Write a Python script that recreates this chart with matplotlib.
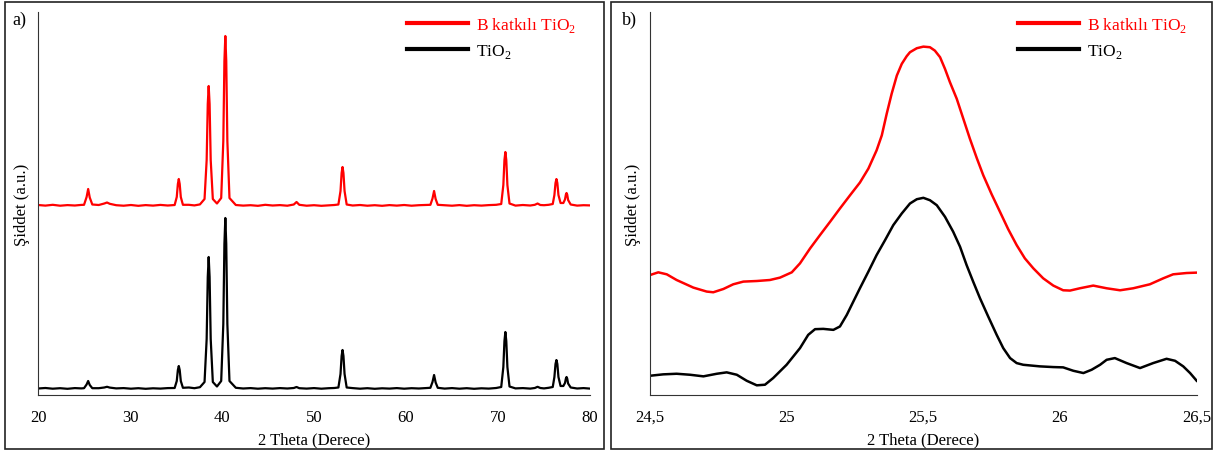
import matplotlib
matplotlib.use("Agg")
import matplotlib.pyplot as plt
from matplotlib.patches import Rectangle

plt.rcParams['font.family'] = ['Liberation Serif', 'DejaVu Serif']
plt.rcParams['mathtext.fontset'] = 'custom'
plt.rcParams['mathtext.rm'] = 'Liberation Serif'

# ---- panel a) full XRD pattern (2 theta, shared grid) ----
theta = [20.0, 20.8, 21.6, 22.4, 23.2, 24.0, 24.7,
         25.0, 25.28, 25.45, 25.62, 25.9,
         26.6, 27.2, 27.5, 27.8, 28.5, 29.3, 30.1, 30.9, 31.7, 32.5, 33.3, 34.1,
         34.85, 35.08, 35.2, 35.3, 35.4, 35.52, 35.75,
         36.4, 37.0, 37.6,
         38.1, 38.33, 38.45, 38.55, 38.65, 38.77, 39.0,
         39.45,
         39.91, 40.14, 40.26, 40.36, 40.46, 40.58, 40.81,
         41.5, 42.3, 43.1, 43.9, 44.7, 45.5, 46.3, 47.1,
         47.8, 48.1, 48.4,
         49.2, 50.0, 50.8, 51.6, 52.2,
         52.65, 52.88, 53.0, 53.1, 53.2, 53.32, 53.55,
         54.2, 55.0, 55.8, 56.6, 57.4, 58.2, 59.0, 59.8, 60.6, 61.4, 62.1,
         62.65, 62.88, 63.05, 63.22, 63.45,
         64.2, 65.0, 65.8, 66.6, 67.4, 68.2, 69.0, 69.8,
         70.35, 70.58, 70.7, 70.8, 70.9, 71.02, 71.25,
         71.9, 72.7, 73.5,
         74.0, 74.3, 74.6,
         75.0, 75.5,
         75.95, 76.13, 76.25, 76.35, 76.45, 76.57, 76.8,
         77.1, 77.28, 77.38, 77.45, 77.52, 77.62, 77.9,
         78.6, 79.3, 80.0]

tio2 = [0.5, 1.0, 0.3, 0.8, 0.2, 0.9, 0.6,
        0.8, 4.5, 8, 4, 0.8,
        0.8, 1.5, 2.2, 1.4, 0.6, 0.9, 0.3, 0.8, 0.2, 0.7, 0.4, 0.9,
        1.0, 8, 19, 23, 19, 8, 1.2,
        1.5, 0.8, 1.8,
        7, 50, 112, 132, 112, 50, 7,
        2.5,
        8, 65, 145, 171, 145, 65, 8,
        1.2, 0.5, 0.9, 0.3, 0.8, 0.4, 0.9, 0.5,
        1.0, 2.0, 0.8,
        0.4, 0.9, 0.3, 0.8, 1.0,
        1.5, 15, 33, 39, 33, 15, 1.5,
        0.9, 0.3, 0.8, 0.2, 0.7, 0.4, 0.9, 0.3, 0.8, 0.5, 0.9,
        1.2, 7, 14, 6.5, 1.2,
        0.4, 0.9, 0.3, 0.8, 0.2, 0.7, 0.4, 1.0,
        2, 22, 48, 57, 48, 22, 2.5,
        0.6, 0.9, 0.4,
        1.0, 2.2, 1.0,
        0.6, 1.2,
        2, 12, 25, 29, 25, 12, 3,
        3, 6, 10.5, 12, 10.5, 5.5, 1.5,
        0.5, 0.9, 0.4]

b_tio2 = [1.0, 0.4, 1.2, 0.3, 0.9, 0.5, 1.1,
          1.2, 9, 17, 8.5, 1.5,
          1.0, 2.5, 3.5, 2.2, 0.8, 0.3, 1.0, 0.2, 0.9, 0.4, 1.1, 0.5,
          1.0, 9, 22, 27, 22, 9, 1.2,
          1.2, 0.6, 1.6,
          7, 46, 102, 120, 102, 46, 7,
          2.5,
          8, 65, 145, 170, 145, 65, 8,
          1.0, 0.4, 0.8, 0.2, 1.2, 0.5, 0.9, 0.3,
          1.5, 4.0, 1.2,
          0.3, 0.8, 0.2, 0.7, 1.0,
          1.5, 15, 33, 39, 33, 15, 1.5,
          0.5, 1.0, 0.3, 0.8, 0.2, 0.9, 0.4, 1.0, 0.3, 0.8, 1.0,
          1.2, 7.5, 15, 7, 1.2,
          0.8, 0.3, 0.9, 0.2, 0.8, 0.4, 0.9, 1.2,
          2, 21, 46, 54, 46, 21, 2.5,
          0.4, 1.0, 0.5,
          1.2, 2.5, 1.0,
          0.8, 1.2,
          2, 11, 23, 27, 23, 11, 3,
          3, 6.5, 11.5, 13, 11.5, 6, 1.5,
          0.4, 0.8, 0.6]

# ---- panel b) zoom on the anatase (101) peak ----
zoom_x_b = [24.502, 24.532, 24.563, 24.599, 24.660, 24.709, 24.733, 24.770, 24.806,
            24.843, 24.892, 24.940, 24.977, 25.020, 25.050, 25.087, 25.123, 25.160,
            25.196, 25.233, 25.269, 25.300, 25.330, 25.349, 25.367, 25.385, 25.404,
            25.422, 25.440, 25.452, 25.477, 25.501, 25.525, 25.543, 25.562, 25.580,
            25.598, 25.623, 25.647, 25.671, 25.696, 25.720, 25.751, 25.781, 25.811,
            25.842, 25.872, 25.903, 25.939, 25.976, 26.012, 26.037, 26.073, 26.122,
            26.171, 26.220, 26.268, 26.329, 26.378, 26.414, 26.463, 26.500]
zoom_b_tio2 = [120.3, 123.0, 121.0, 115.3, 107.7, 103.7, 103.0, 106.3, 111.0,
               113.7, 114.3, 115.3, 117.7, 123.0, 132.0, 147.0, 160.3, 173.7,
               187.0, 200.3, 213.0, 227.0, 245.3, 260.3, 282.0, 302.0, 320.3,
               332.0, 339.7, 343.7, 347.7, 349.3, 348.7, 345.3, 338.7, 327.0,
               313.7, 297.0, 277.0, 257.0, 237.7, 220.3, 201.0, 183.7, 166.3,
               150.3, 137.0, 127.0, 117.0, 109.7, 105.0, 104.7, 107.0, 109.7,
               107.0, 105.0, 107.0, 111.0, 117.0, 121.0, 122.3, 122.7]

zoom_x_t = [24.502, 24.550, 24.599, 24.648, 24.697, 24.746, 24.782, 24.819, 24.855,
            24.892, 24.922, 24.952, 25.001, 25.050, 25.080, 25.105, 25.135, 25.172,
            25.196, 25.221, 25.245, 25.269, 25.300, 25.330, 25.361, 25.391, 25.422,
            25.452, 25.477, 25.501, 25.525, 25.550, 25.580, 25.610, 25.635, 25.659,
            25.683, 25.708, 25.738, 25.769, 25.793, 25.818, 25.842, 25.866, 25.927,
            25.976, 26.012, 26.049, 26.086, 26.116, 26.147, 26.171, 26.201, 26.244,
            26.293, 26.341, 26.390, 26.421, 26.451, 26.476, 26.500]
zoom_tio2 = [19.3, 20.7, 21.3, 20.3, 18.7, 21.3, 22.7, 20.3, 14.3,
             9.7, 10.3, 17.0, 30.3, 47.0, 60.3, 66.0, 66.3, 65.3,
             68.7, 80.3, 93.7, 107.0, 123.7, 140.3, 155.3, 170.3, 182.0,
             192.0, 196.3, 197.7, 195.3, 190.3, 178.7, 163.7, 148.7, 130.3,
             113.7, 97.0, 78.7, 60.3, 47.0, 37.0, 32.0, 30.3, 28.7,
             28.0, 27.7, 24.3, 22.0, 25.3, 30.3, 35.3, 37.0, 32.0,
             27.0, 32.0, 36.3, 34.3, 28.7, 22.0, 14.3]

ticks_a = [20, 30, 40, 50, 60, 70, 80]
ticks_b = [24.5, 25, 25.5, 26, 26.5]
tick_labels_b = ['24,5', '25', '25,5', '26', '26,5']

RED = '#ff0000'
red_offset = 183

fig = plt.figure(figsize=(12.15, 4.52), dpi=100)

# panel frames
for x0, w in [(0.0041, 0.4930), (0.5029, 0.4947)]:
    fig.patches.append(Rectangle((x0, 0.0044), w, 0.989, transform=fig.transFigure,
                                 fill=False, edgecolor='#222222', linewidth=1.2))

ax1 = fig.add_axes([0.0313, 0.1239, 0.4543, 0.8473])
ax2 = fig.add_axes([0.5346, 0.1239, 0.4503, 0.8473])

ax1.plot(theta, [v + red_offset for v in b_tio2], color=RED, lw=1.6)
ax1.plot(theta, tio2, color='black', lw=1.6)
ax1.set_xlim(20, 80)
ax1.set_ylim(-6, 377)
ax1.set_xticks(ticks_a)

ax2.plot(zoom_x_b, zoom_b_tio2, color=RED, lw=1.8)
ax2.plot(zoom_x_t, zoom_tio2, color='black', lw=1.8)
ax2.set_xlim(24.5, 26.5)
ax2.set_ylim(0, 384)
ax2.set_xticks(ticks_b)
ax2.set_xticklabels(tick_labels_b)

for ax in (ax1, ax2):
    ax.spines['top'].set_visible(False)
    ax.spines['right'].set_visible(False)
    ax.spines['left'].set_color('#333333')
    ax.spines['bottom'].set_color('#333333')
    ax.set_yticks([])
    ax.tick_params(axis='x', length=0, pad=10, labelsize=12)
    ax.set_xlabel('2 Theta (Derece)', fontsize=12, labelpad=5)
    ax.set_ylabel('Şiddet (a.u.)', fontsize=12, labelpad=6)

leg_kw = dict(loc='upper left', bbox_transform=fig.transFigure, frameon=False,
              fontsize=12.5, handlelength=3.5, handletextpad=0.45, labelspacing=0.45,
              borderpad=0, borderaxespad=0, labelcolor=[RED, 'black'])
for ax, xa in [(ax1, 407 / 1215), (ax2, 1018 / 1215)]:
    lg = ax.legend(['B katkılı TiO$_2$', 'TiO$_2$'], bbox_to_anchor=(xa, 0.965), **leg_kw)
    for h in lg.get_lines():
        h.set_linewidth(3)

fig.text(12 / 1215, 1 - 20 / 452, 'a)', fontsize=13, va='center')
fig.text(622 / 1215, 1 - 20 / 452, 'b)', fontsize=13, va='center')

fig.savefig('out.png', dpi=100)
